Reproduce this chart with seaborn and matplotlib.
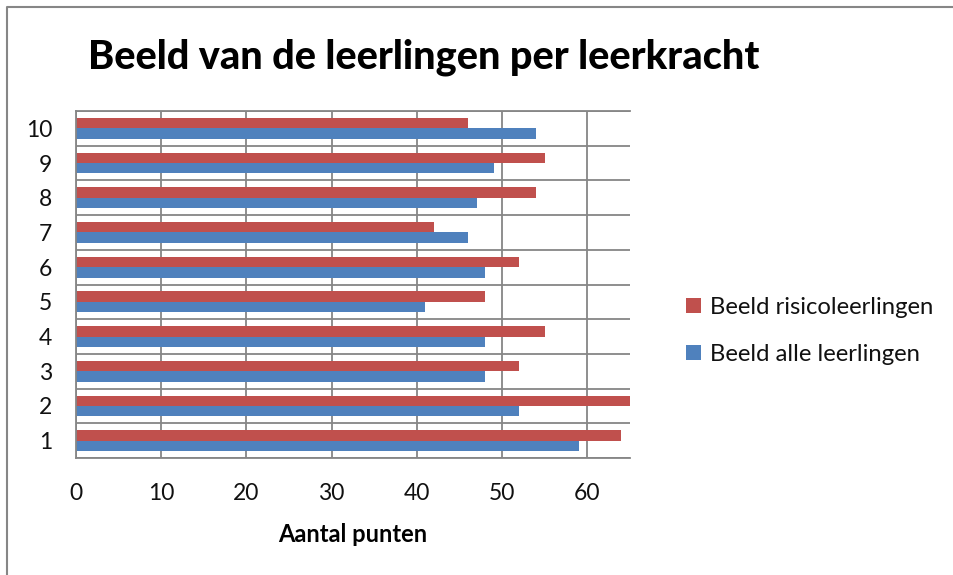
import matplotlib
matplotlib.use("Agg")
import matplotlib.pyplot as plt
from matplotlib.lines import Line2D
from matplotlib.patches import Patch
import seaborn as sns
import pandas as pd

# Scores per teacher (1-10) for both groups of pupils
leerkrachten = ["1", "2", "3", "4", "5", "6", "7", "8", "9", "10"]
beeld_risico = [64, 65, 52, 55, 48, 52, 42, 54, 55, 46]
beeld_alle = [59, 52, 48, 48, 41, 48, 46, 47, 49, 54]
reeksen = ["Beeld risicoleerlingen", "Beeld alle leerlingen"]
x_ticks = [0, 10, 20, 30, 40, 50, 60]

kleuren = {"Beeld risicoleerlingen": "#C0504D", "Beeld alle leerlingen": "#4F81BD"}
grid_kleur = "#868686"

df = pd.DataFrame({
    "Leerkracht": leerkrachten * 2,
    "Punten": beeld_risico + beeld_alle,
    "Reeks": [reeksen[0]] * len(leerkrachten) + [reeksen[1]] * len(leerkrachten),
})

sns.set_theme(style="white")
plt.rcParams["font.family"] = ["Lato", "DejaVu Sans"]

fig = plt.figure(figsize=(9.54, 5.75), dpi=100)
ax = fig.add_axes([76 / 954, 1 - 458 / 575, (630 - 76) / 954, (458 - 111) / 575])

sns.barplot(
    data=df, y="Leerkracht", x="Punten", hue="Reeks",
    order=leerkrachten[::-1], hue_order=reeksen, palette=kleuren,
    orient="h", width=0.6, saturation=1, linewidth=0, ax=ax, legend=False,
)

ax.set_xlim(0, 65)
ax.set_ylim(len(leerkrachten) - 0.5, -0.5)
ax.set_xticks(x_ticks)
ax.set_xticklabels([str(v) for v in x_ticks], fontsize=16.5, color="#111111")
ax.tick_params(axis="y", labelsize=16.5, labelcolor="#111111", length=0, pad=24)
for lbl in ax.get_yticklabels():
    lbl.set_horizontalalignment("right")
ax.tick_params(axis="y", pad=17)
ax.tick_params(axis="x", length=0, pad=18)
ax.set_yticks([i - 0.5 for i in range(len(leerkrachten) + 1)], minor=True)
ax.tick_params(axis="y", which="minor", length=0)
ax.grid(axis="x", which="major", color=grid_kleur, lw=1.3)
ax.grid(axis="y", which="minor", color=grid_kleur, lw=1.3)
ax.grid(axis="y", which="major", visible=False)
ax.set_axisbelow(True)

for kant in ["top", "bottom", "left"]:
    ax.spines[kant].set_color(grid_kleur)
    ax.spines[kant].set_linewidth(1.3)
ax.spines["right"].set_visible(False)

ax.set_ylabel("")
ax.set_xlabel("Aantal punten", fontsize=17, fontweight="bold", labelpad=14, color="black")

fig.text(88 / 954, 1 - 57 / 575, "Beeld van de leerlingen per leerkracht",
         fontsize=28.5, fontweight="black", ha="left", va="center", color="black")

handles = [Patch(facecolor=kleuren[r], edgecolor="none", label=r) for r in reeksen]
fig.legend(handles=handles, loc="center left", bbox_to_anchor=(665 / 954, 1 - 331 / 575),
           frameon=False, fontsize=17.2, handlelength=0.6, handleheight=0.6,
           handletextpad=0.4, labelspacing=1.1, labelcolor="#111111")

# outer chart border (left and top edges)
fig.add_artist(Line2D([7 / 954, 7 / 954, 1.0], [0.0, 1 - 7 / 575, 1 - 7 / 575],
                      color=grid_kleur, lw=1.5, transform=fig.transFigure))

fig.savefig("out.png", dpi=100, facecolor="white")
